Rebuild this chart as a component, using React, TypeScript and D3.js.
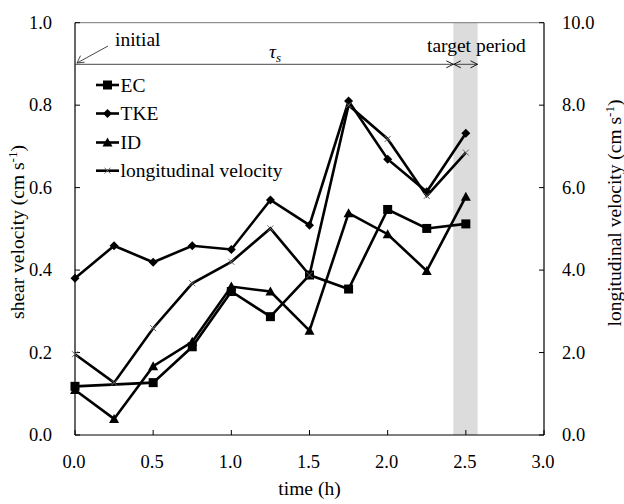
import React from "react";
import * as d3 from "d3";

const times = [0, 0.25, 0.5, 0.75, 1.0, 1.25, 1.5, 1.75, 2.0, 2.25, 2.5];
const ecValues: (number | null)[] = [0.118, null, 0.127, 0.214, 0.348, 0.287, 0.388, 0.354, 0.547, 0.501, 0.512];
const tkeValues = [0.38, 0.459, 0.419, 0.459, 0.45, 0.57, 0.509, 0.81, 0.669, 0.59, 0.732];
const idValues = [0.109, 0.039, 0.167, 0.226, 0.36, 0.348, 0.253, 0.538, 0.487, 0.398, 0.578];
const longValues = [1.96, 1.27, 2.59, 3.68, 4.2, 5.01, 3.88, 8.0, 7.18, 5.8, 6.85];
const xTicks = [0, 0.5, 1.0, 1.5, 2.0, 2.5, 3.0];
const yLeftTicks = [0, 0.2, 0.4, 0.6, 0.8, 1.0];
const yRightTicks = [0, 2, 4, 6, 8, 10];
const targetPeriod = [2.42, 2.575];
const legendLabels = ["EC", "TKE", "ID", "longitudinal velocity"];

const FONT = "'Liberation Serif'";
const tick: React.CSSProperties = { fontFamily: FONT, fontSize: 18.5 };
const ts: React.CSSProperties = { fontFamily: FONT, fontSize: 19.5 };

export default function App() {
  const L = 75, R = 544, T = 22.7, B = 435;
  const x = d3.scaleLinear().domain([0, 3]).range([L, R]);
  const yl = d3.scaleLinear().domain([0, 1]).range([B, T]);
  const yr = d3.scaleLinear().domain([0, 10]).range([B, T]);

  type P = [number, number];
  const mk = (vals: (number | null)[], sc: d3.ScaleLinear<number, number>): P[] =>
    vals.map((v, i) => (v == null ? null : [x(times[i]), sc(v)] as P)).filter((p): p is P => p !== null);

  const line = d3.line<P>().x((d) => d[0]).y((d) => d[1]);

  const ecPts = mk(ecValues, yl);
  const tkePts = mk(tkeValues, yl);
  const idPts = mk(idValues, yl);
  const longPts = mk(longValues, yr);

  const square = (cx: number, cy: number, k: string) => (
    <rect key={k} x={cx - 4.5} y={cy - 4.5} width={9} height={9} fill="#000" />
  );
  const diamond = (cx: number, cy: number, k: string) => (
    <path key={k} d={`M${cx},${cy - 4.5}L${cx + 4.5},${cy}L${cx},${cy + 4.5}L${cx - 4.5},${cy}Z`} fill="#000" />
  );
  const triangle = (cx: number, cy: number, k: string) => (
    <path key={k} d={`M${cx},${cy - 5}L${cx + 5},${cy + 4}L${cx - 5},${cy + 4}Z`} fill="#000" />
  );
  const cross = (cx: number, cy: number, k: string) => (
    <path key={k} d={`M${cx - 3},${cy - 3}L${cx + 3},${cy + 3}M${cx - 3},${cy + 3}L${cx + 3},${cy - 3}`} stroke="#666" strokeWidth={1} />
  );

  const series = [
    { pts: ecPts, m: square },
    { pts: tkePts, m: diamond },
    { pts: idPts, m: triangle },
    { pts: longPts, m: cross },
  ];

  const arrowY = 64.3;
  const xA = x(targetPeriod[0]);
  const xB = x(targetPeriod[1]);

  const head = (tx: number, ty: number, dir: number, k: string) => (
    <path key={k} d={`M${tx - dir * 7},${ty - 3.5}L${tx},${ty}L${tx - dir * 7},${ty + 3.5}`} fill="none" stroke="#000" strokeWidth={0.9} />
  );

  const legendY = [85, 113.5, 142.5, 170.7];

  return (
    <svg width={624} height={504} style={{ position: "absolute", left: 0, top: 0, background: "#fff" }}>
      <rect x={0} y={0} width={624} height={504} fill="#fff" />
      <rect x={xA} y={T} width={xB - xA} height={B - T} fill="#dcdcdc" />

      <line x1={L} y1={T} x2={R} y2={T} stroke="#777" strokeWidth={1} />
      <line x1={L} y1={T} x2={L} y2={B} stroke="#000" strokeWidth={1.2} />
      <line x1={R} y1={T} x2={R} y2={B} stroke="#000" strokeWidth={1.2} />
      <line x1={L} y1={B} x2={R} y2={B} stroke="#000" strokeWidth={1.2} />

      {xTicks.map((t) => (
        <g key={"xt" + t}>
          <line x1={x(t)} x2={x(t)} y1={B} y2={B - 5} stroke="#000" strokeWidth={1} />
          <text x={x(t) - 1} y={468} textAnchor="middle" style={tick}>{t.toFixed(1)}</text>
        </g>
      ))}
      {yLeftTicks.map((t) => (
        <g key={"yl" + t}>
          <line x1={L} x2={L + 5} y1={yl(t)} y2={yl(t)} stroke="#000" strokeWidth={1} />
          <text x={52} y={yl(t) + 6.3} textAnchor="end" style={tick}>{t.toFixed(1)}</text>
        </g>
      ))}
      {yRightTicks.map((t) => (
        <g key={"yr" + t}>
          <line x1={R} x2={R - 5} y1={yr(t)} y2={yr(t)} stroke="#000" strokeWidth={1} />
          <text x={562} y={yr(t) + 6.3} textAnchor="start" style={tick}>{t.toFixed(1)}</text>
        </g>
      ))}

      <text x={(L + R) / 2} y={495} textAnchor="middle" style={ts}>time (h)</text>
      <text transform={`translate(24,232) rotate(-90)`} textAnchor="middle" style={ts}>
        shear velocity (cm s<tspan dy={-7} style={{ fontSize: 13 }}>-1</tspan><tspan dy={7}>)</tspan>
      </text>
      <text transform={`translate(621,213) rotate(-90)`} textAnchor="middle" style={ts}>
        longitudinal velocity (cm s<tspan dy={-7} style={{ fontSize: 13 }}>-1</tspan><tspan dy={7}>)</tspan>
      </text>

      {series.map((s, i) => (
        <g key={"s" + i}>
          <path d={line(s.pts) || ""} fill="none" stroke="#000" strokeWidth={2.6} strokeLinejoin="miter" />
          {s.pts.map((p, j) => s.m(p[0], p[1], `m${i}-${j}`))}
        </g>
      ))}

      <line x1={L} y1={arrowY} x2={xA} y2={arrowY} stroke="#333" strokeWidth={0.9} />
      {head(xA, arrowY, 1, "h1")}
      <line x1={xA} y1={arrowY} x2={xB} y2={arrowY} stroke="#333" strokeWidth={0.9} />
      {head(xA + 0.5, arrowY, -1, "h2")}
      {head(xB, arrowY, 1, "h3")}
      <line x1={108} y1={46} x2={77} y2={63} stroke="#333" strokeWidth={0.9} />
      <path d={`M${77 + 3.5},${63 - 7.3}L77,63L${77 + 7.6},${63 - 0.8}`} fill="none" stroke="#333" strokeWidth={0.9} />
      <text x={115} y={46} style={ts}>initial</text>
      <text x={269} y={58} style={{ ...ts, fontStyle: "italic" }}>τ<tspan dy={4} style={{ fontSize: 13 }}>s</tspan></text>
      <text x={427} y={52} style={ts}>target period</text>

      {legendLabels.map((lab, i) => (
        <g key={"lg" + i}>
          <line x1={96} x2={119} y1={legendY[i]} y2={legendY[i]} stroke="#000" strokeWidth={2.6} />
          {series[i].m(107.5, legendY[i], "lm" + i)}
          <text x={120.5} y={legendY[i] + 6.5} style={ts}>{lab}</text>
        </g>
      ))}
    </svg>
  );
}
